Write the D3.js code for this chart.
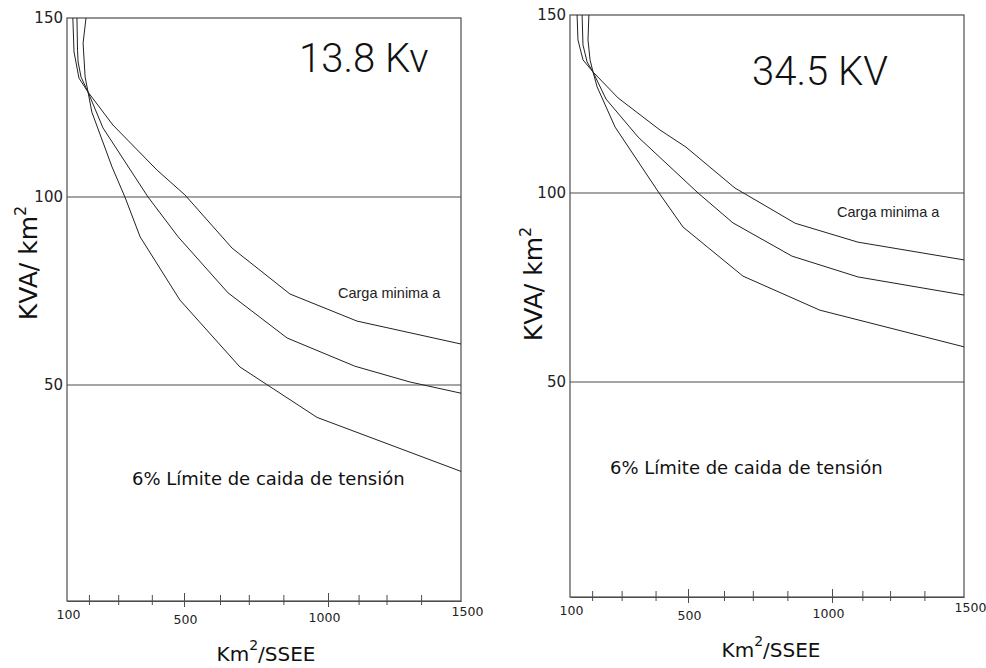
<!DOCTYPE html>
<html>
<head>
<meta charset="utf-8">
<script src="https://cdn.jsdelivr.net/npm/d3@7"></script>
<style>
  body { margin: 0; background: #fff; }
  svg { display: block; }
</style>
</head>
<body>
<div id="chart"></div>
<script>
// x: Km2/SSEE, y: KVA/km2
const xMajor = [100, 500, 1000, 1500];
const xMinor = [175, 275, 390, 625, 725, 845, 1115, 1220, 1350];
const yLabels = [50, 100, 150];
const yRefLines = [50, 100];

const kv138Upper = [[120,150],[124,140.5],[141,133.2],[172,129.3],[257,120.1],[408,107.5],[503,100.6],[667,86.4],[868,74.2],[1109,67],[1500,60.9]];
const kv138Middle = [[134,150],[136,141],[138,137.7],[148,133.5],[172,129.3],[223,119.3],[377,100],[480,89.4],[653,74.5],[858,62.5],[1101,55],[1308,50.8],[1500,48.1]];
const kv138Lower = [[165,150],[155,143],[162,133.5],[172,129.3],[185,123.7],[254,108.4],[298,100],[350,89.4],[486,72.6],[694,54.8],[962,42.5],[1500,30]];

const kv345Upper = [[124,150],[127,143],[144,137.4],[178,134],[263,126.7],[405,117.7],[493,112.9],[663,101.4],[872,92],[1098,87],[1500,82.3]];
const kv345Middle = [[141,150],[144,141.6],[158,136.8],[178,134],[222,126.4],[331,115.7],[535,100],[656,92.1],[861,83.3],[1098,77.8],[1500,73]];
const kv345Lower = [[164,150],[161,143],[168,137.4],[178,134],[192,129.8],[253,118.5],[402,100],[483,91],[691,78],[958,69],[1500,59.3]];

const titles = ["13.8 Kv", "34.5 KV"];
const noteText = "Carga minima a";
const limitText = "6% Límite de caida de tensión";

// layout (pixels)
const panels = [
  {
    title: titles[0], curves: [kv138Upper, kv138Middle, kv138Lower],
    xRange: [67, 184, 328, 461], yRange: [601, 385, 197, 18],
    titleX: 299, titleY: 72, noteX: 338, noteY: 298, limitX: 132, limitY: 485,
    yTitleX: 37, yTitleY: 263, xTitleX: 266, xTitleY: 661
  },
  {
    title: titles[1], curves: [kv345Upper, kv345Middle, kv345Lower],
    xRange: [570, 688, 832, 964], yRange: [597, 382, 193, 15],
    titleX: 752, titleY: 85, noteX: 837, noteY: 217, limitX: 610, limitY: 474,
    yTitleX: 542, yTitleY: 284, xTitleX: 771, xTitleY: 657
  }
];
const labelShift = { 100: [1, 14], 500: [1, 19], 1000: [-4, 17], 1500: [6, 11] };

const geo = "'DejaVu Sans', sans-serif";
const ink = "#222";
const frameInk = "#4d4d4d";

const svg = d3.select("#chart").append("svg")
  .attr("width", 986).attr("height", 668);

panels.forEach(p => {
  const x = d3.scaleLinear().domain(xMajor).range(p.xRange);
  const y = d3.scaleLinear().domain([0, 50, 100, 150]).range(p.yRange);
  const g = svg.append("g");

  // frame + reference lines
  g.append("rect")
    .attr("x", x(100)).attr("y", y(150))
    .attr("width", x(1500) - x(100)).attr("height", y(0) - y(150))
    .attr("fill", "none").attr("stroke", frameInk).attr("stroke-width", 1.2);

  g.selectAll(".ref").data(yRefLines).join("line")
    .attr("class", "ref")
    .attr("x1", x(100)).attr("x2", x(1500))
    .attr("y1", d => y(d)).attr("y2", d => y(d))
    .attr("stroke", frameInk).attr("stroke-width", 1.2);

  // x axis
  const ticks = [...xMajor, ...xMinor].sort((a, b) => a - b);
  const xAxis = g.append("g")
    .attr("transform", `translate(0,${y(0)})`)
    .call(d3.axisBottom(x).tickValues(ticks).tickSize(0)
      .tickFormat(d => xMajor.includes(d) ? d : ""));
  xAxis.select(".domain").attr("stroke", frameInk).attr("stroke-width", 1.2);
  xAxis.selectAll(".tick line")
    .attr("stroke", frameInk)
    .attr("y1", d => d === 100 || d === 1500 ? 0 : (xMajor.includes(d) ? -8 : -6))
    .attr("y2", d => d === 100 || d === 1500 ? 0 : (xMajor.includes(d) ? 6 : 4));
  xAxis.selectAll(".tick text")
    .attr("font-family", geo).attr("font-size", 12.5).attr("fill", ink)
    .attr("x", d => labelShift[d] ? labelShift[d][0] : 0)
    .attr("y", d => labelShift[d] ? labelShift[d][1] : 0)
    .attr("dy", "0.35em");

  // y axis labels only
  const yAxis = g.append("g")
    .attr("transform", `translate(${x(100)},0)`)
    .call(d3.axisLeft(y).tickValues(yLabels).tickSize(0).tickPadding(4));
  yAxis.select(".domain").remove();
  yAxis.selectAll(".tick text")
    .attr("font-family", geo).attr("font-size", 15).attr("fill", ink);

  // curves
  const line = d3.line().x(d => x(d[0])).y(d => y(d[1]));
  g.selectAll(".curve").data(p.curves).join("path")
    .attr("class", "curve")
    .attr("d", line)
    .attr("fill", "none").attr("stroke", ink).attr("stroke-width", 1);

  // texts
  g.append("text")
    .attr("x", p.titleX).attr("y", p.titleY)
    .attr("font-family", "Roboto, sans-serif").attr("font-weight", 300)
    .attr("font-size", 40).attr("fill", "#111").text(p.title);

  g.append("text")
    .attr("x", p.noteX).attr("y", p.noteY)
    .attr("font-family", "'Liberation Sans', Arial, sans-serif").attr("font-size", 14.5)
    .attr("fill", ink).text(noteText);

  g.append("text")
    .attr("x", p.limitX).attr("y", p.limitY)
    .attr("font-family", geo).attr("font-size", 18)
    .attr("fill", "#111").text(limitText);

  const yt = g.append("text")
    .attr("transform", `translate(${p.yTitleX},${p.yTitleY}) rotate(-90)`)
    .attr("text-anchor", "middle")
    .attr("font-family", geo).attr("font-size", 25).attr("fill", "#111");
  yt.append("tspan").text("KVA/ km");
  yt.append("tspan").attr("dy", -11).attr("font-size", 16).text("2");

  const xt = g.append("text")
    .attr("x", p.xTitleX).attr("y", p.xTitleY)
    .attr("text-anchor", "middle")
    .attr("font-family", geo).attr("font-size", 20).attr("fill", "#111");
  xt.append("tspan").text("Km");
  xt.append("tspan").attr("dy", -11).attr("font-size", 14).text("2");
  xt.append("tspan").attr("dy", 11).text("/SSEE");
});
</script>
</body>
</html>
